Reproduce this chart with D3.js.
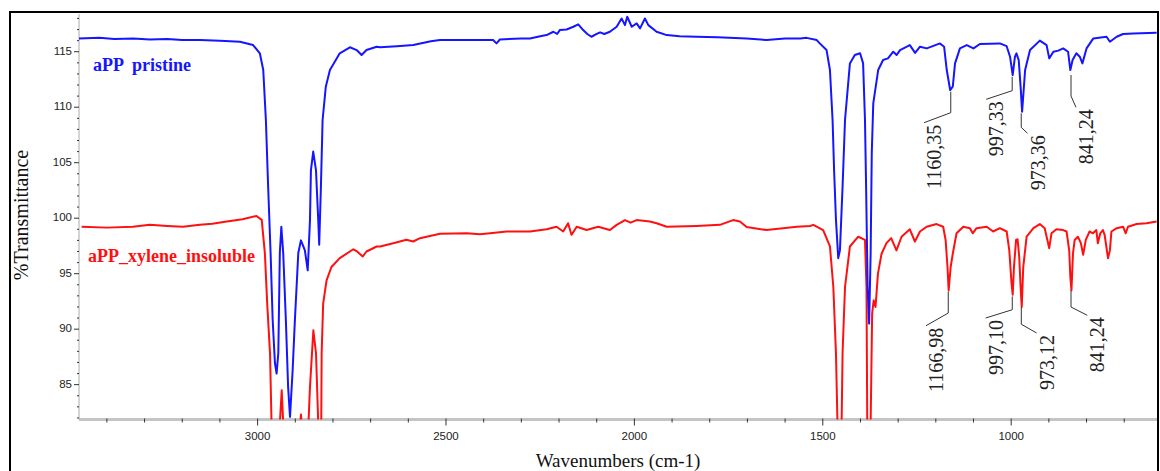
<!DOCTYPE html>
<html>
<head>
<meta charset="utf-8">
<script src="https://cdn.jsdelivr.net/npm/d3@7"></script>
<style>
  body { margin: 0; background: #fff; }
  svg { display: block; }
</style>
</head>
<body>
<script>
// spectra: [wavenumber (cm-1), %T]
const pristine = [
  [3474,116.2],[3420,116.25],[3380,116.15],[3330,116.2],[3286,116.1],[3240,116.15],[3200,116.05],
  [3153,116.05],[3100,116.0],[3047,115.9],[3012,115.6],[2994,114.86],[2985,113.35],[2978,108.85],
  [2972,102.84],[2965.5,96.86],[2960,90.83],[2954,86.95],[2949.6,86.0],[2945,87.85],[2941,96.86],
  [2937,99.23],[2932,96.86],[2925,90.83],[2919,84.8],[2914,82.1],[2907,86.3],[2901,90.83],
  [2892,96.86],[2885,98.0],[2874.5,97.1],[2867,95.3],[2861,99.8],[2858.5,104.3],[2852.4,106.0],
  [2845,104.3],[2839,99.8],[2836.5,97.6],[2832,102.8],[2827.5,108.85],[2819,111.85],[2808,113.35],
  [2782,114.86],[2755,115.4],[2737,115.15],[2724,114.7],[2711,115.15],[2684,115.45],[2675,115.4],
  [2630,115.5],[2587,115.6],[2540,115.95],[2516,116.05],[2450,116.05],[2375,116.05],[2366,115.75],
  [2357,116.1],[2300,116.2],[2277,116.2],[2250,116.4],[2233,116.5],[2215,116.8],[2205,116.6],
  [2198,116.95],[2180,117.0],[2162,117.25],[2149,117.47],[2136,116.95],[2125,116.6],[2114,116.35],
  [2100,116.6],[2091,116.75],[2080,116.6],[2065,116.8],[2047,117.25],[2034,118.0],[2025,117.4],
  [2019,118.15],[2007,117.25],[1994,117.55],[1985,117.1],[1972,118.0],[1963,117.4],[1941,116.8],
  [1914,116.5],[1880,116.4],[1835,116.35],[1780,116.3],[1702,116.2],[1649,116.05],[1600,116.2],
  [1560,116.2],[1543,116.25],[1516,116.05],[1508,115.75],[1490,115.15],[1481,113.35],[1474,108.85],
  [1470,104.34],[1465,99.83],[1459,96.4],[1454.5,97.1],[1447.5,102.84],[1441,108.85],[1428,113.95],
  [1415,114.7],[1401,114.86],[1393,113.95],[1388,108.85],[1385,102.8],[1381,93.8],[1377,90.5],
  [1373,96.8],[1370,105.85],[1366,110.35],[1353,113.35],[1340,114.25],[1327,114.4],[1313,115.0],
  [1304,114.7],[1295,115.15],[1269,115.6],[1255,114.9],[1242,115.45],[1224,115.3],[1189,115.75],
  [1178,115.45],[1171,113.35],[1162,111.55],[1155,111.85],[1149,113.95],[1136,115.3],[1118,115.6],
  [1100,115.3],[1083,115.7],[1030,115.75],[1012,115.5],[1003,114.55],[996,112.9],[990,114.55],
  [986,114.85],[980,114.25],[975,111.85],[971,109.6],[963,113.35],[950,115.15],[924,116.0],
  [906,115.6],[899,114.4],[888,115.0],[875,115.1],[862,115.3],[849,115.0],[843,113.35],[837,114.25],
  [827,114.86],[818,114.55],[811,113.95],[800,115.3],[782,116.2],[747,116.35],[738,115.9],
  [720,116.35],[703,116.6],[676,116.65],[614,116.7]
];

const insoluble = [
  [3467,99.23],[3400,99.15],[3331,99.23],[3286,99.4],[3240,99.3],[3198,99.23],[3153,99.4],
  [3120,99.5],[3082,99.7],[3040,99.9],[3003,100.2],[2989,99.85],[2980.6,96.8],[2974.5,92.3],
  [2967,87.8],[2963,81.5],[2958,78],[2945,78],[2941,81.5],[2936,84.5],[2932,81.5],[2928,78],
  [2890,78],[2887,81.5],[2885,82.3],[2883,81.5],[2875,78],[2865,81.5],[2861,84.8],[2852,89.9],
  [2845,87.85],[2839,81.5],[2835,78],[2833,78],[2831,82],[2830,87.85],[2826,92.3],[2817,94.4],
  [2804,95.6],[2782,96.4],[2746,97.2],[2736,97.0],[2721,96.55],[2711,97.0],[2684,97.45],
  [2675,97.45],[2640,97.75],[2605,98.05],[2587,97.9],[2569,98.2],[2516,98.6],[2445,98.64],
  [2410,98.55],[2383,98.64],[2339,98.8],[2277,98.8],[2233,99.0],[2206.5,99.23],[2189,98.8],
  [2176,99.55],[2167,98.5],[2153,99.23],[2127,98.93],[2096,99.23],[2065,98.93],[2047,99.4],
  [2025,99.83],[2010,99.6],[1994,99.83],[1959,99.7],[1941,99.55],[1914,99.23],[1835,99.3],
  [1773,99.4],[1738,99.83],[1720,99.7],[1702,99.2],[1649,98.93],[1569,99.23],[1534,99.3],
  [1525,99.4],[1499,98.93],[1481,97.45],[1472,93.8],[1465,87.8],[1461,81.5],[1455,78],[1452,78],
  [1450,81.5],[1447.5,87.85],[1441,93.8],[1428,97.45],[1406,98.33],[1388,98.05],[1384,93.8],
  [1382,81.5],[1379,78],[1375,78],[1373,81.5],[1369,91.4],[1365,92.6],[1360,92.0],[1353.6,95.0],
  [1344,96.8],[1331,97.75],[1318.5,98.2],[1304.5,97.1],[1291,98.33],[1269,99.0],[1255.5,97.9],
  [1242,98.8],[1224.5,99.23],[1198,99.47],[1180.5,99.23],[1174,98.04],[1169,95.6],[1166,93.5],
  [1160.6,95.6],[1155,96.8],[1145,98.64],[1127,99.23],[1109.5,99.1],[1102,98.64],[1092,99.1],
  [1065,99.23],[1048,98.8],[1030,99.1],[1012,98.8],[1005,97.1],[999,94.1],[996,93.1],[992.6,95.6],
  [987,98.04],[983,98.1],[978.6,96.5],[975,93.8],[972,92.0],[968,95.6],[959,98.33],[941,99.1],
  [924,99.47],[911,99.1],[904,98.04],[899,97.3],[893,98.64],[880,99.0],[862,98.93],[853,98.8],
  [846,97.1],[843,94.7],[840,93.5],[836,96.8],[831.5,98.04],[823,98.33],[815,97.75],[809,96.7],
  [802,98.04],[792,98.8],[783,98.64],[774,98.93],[770,97.75],[763.5,98.64],[756.6,98.93],
  [752,98.5],[747.5,97.45],[743,96.4],[738,97.1],[734,98.8],[720,99.1],[703,99.23],[696,98.64],
  [690,99.23],[667,99.47],[641,99.55],[614,99.7]
];

// peak labels: [wavenumber, %T at peak, label]
const pristinePeaks = [[1160.35,111.4,"1160,35"],[997.33,112.75,"997,33"],[973.36,109.45,"973,36"],[841.24,112.9,"841,24"]];
const insolublePeaks = [[1166.98,93.4,"1166,98"],[997.10,92.95,"997,10"],[973.12,92.0,"973,12"],[841.24,93.5,"841,24"]];

const xMajor = [3000, 2500, 2000, 1500, 1000];
const yMajor = [85, 90, 95, 100, 105, 110, 115];

const W = 1160, H = 471;
var margin = {top: 14, right: 3, bottom: 51.5, left: 79};

// leader layout per label: [stem length, dx, dy]
const pristineLeaders = [[21,-26.7,10],[14,-26,8.6],[14,6.3,6],[21,5,11.3]];
const insolubleLeaders = [[21.6,-22.3,12.7],[13.3,-26.6,8.3],[17.3,15.3,8.7],[16.7,16.3,8.3]];

var svg = d3.select("body").append("svg")
  .attr("width", W)
  .attr("height", H);

var x = d3.scaleLinear()
  .domain([3474, 613])
  .range([margin.left, W - margin.right]);

var y = d3.scaleLinear()
  .domain([81.86, 118.4])
  .range([H - margin.bottom, margin.top]);

// outer frame
svg.append("rect")
  .attr("x", 10).attr("y", 12)
  .attr("width", 1148).attr("height", 480)
  .attr("fill", "none")
  .attr("stroke", "#000")
  .attr("stroke-width", 2);

svg.append("clipPath").attr("id", "plot")
  .append("rect")
  .attr("x", margin.left).attr("y", margin.top)
  .attr("width", W - margin.right - margin.left)
  .attr("height", H - margin.bottom - margin.top);

// x axis
var xAxisG = svg.append("g");
xAxisG.append("line")
  .attr("x1", margin.left).attr("x2", W - margin.right)
  .attr("y1", H - margin.bottom).attr("y2", H - margin.bottom)
  .attr("stroke", "#c4c4c4").attr("stroke-width", 3);

xAxisG.selectAll(".minor")
  .data(d3.range(3400, 613, -100))
  .join("line")
    .attr("x1", d => x(d)).attr("x2", d => x(d))
    .attr("y1", H - margin.bottom - 1)
    .attr("y2", d => H - margin.bottom + (d % 500 == 0 ? 6 : 3))
    .attr("stroke", "#333").attr("stroke-width", 1);

xAxisG.selectAll("text")
  .data(xMajor)
  .join("text")
    .attr("x", d => x(d))
    .attr("y", H - margin.bottom + 17)
    .attr("text-anchor", "middle")
    .attr("dominant-baseline", "middle")
    .style("font", "11.5px 'Liberation Sans', Arial, sans-serif")
    .attr("fill", "#222")
    .text(d => d);

// y axis
var yAxisG = svg.append("g");
yAxisG.append("line")
  .attr("x1", margin.left).attr("x2", margin.left)
  .attr("y1", margin.top).attr("y2", H - margin.bottom)
  .attr("stroke", "#aaa").attr("stroke-width", 1);

yAxisG.selectAll(".tick")
  .data(d3.range(82, 119, 1))
  .join("line")
    .attr("x1", d => margin.left - (d % 5 == 0 ? 5 : 2))
    .attr("x2", margin.left)
    .attr("y1", d => y(d)).attr("y2", d => y(d))
    .attr("stroke", "#333").attr("stroke-width", 1);

yAxisG.selectAll("text")
  .data(yMajor)
  .join("text")
    .attr("x", margin.left - 7)
    .attr("y", d => y(d))
    .attr("text-anchor", "end")
    .attr("dominant-baseline", "middle")
    .style("font", "11.5px 'Liberation Sans', Arial, sans-serif")
    .attr("fill", "#222")
    .text(d => d);

// axis titles
svg.append("text")
  .attr("transform", "translate(28,215) rotate(-90)")
  .attr("text-anchor", "middle")
  .style("font", "20px 'Liberation Serif', 'Times New Roman', serif")
  .attr("fill", "#111")
  .text("%Transmittance");

svg.append("text")
  .attr("x", 618).attr("y", 467)
  .attr("text-anchor", "middle")
  .style("font", "19px 'Liberation Serif', 'Times New Roman', serif")
  .attr("fill", "#111")
  .text("Wavenumbers (cm-1)");

// spectra
var line = d3.line()
  .x(d => x(d[0]))
  .y(d => y(d[1]));

const plot = svg.append("g").attr("clip-path", "url(#plot)");

plot.append("path")
  .datum(insoluble)
  .attr("d", line)
  .attr("fill", "none")
  .attr("stroke", "#ff1010")
  .attr("stroke-width", 2)
  .attr("stroke-linejoin", "round");

plot.append("path")
  .datum(pristine)
  .attr("d", line)
  .attr("fill", "none")
  .attr("stroke", "#1515ff")
  .attr("stroke-width", 2)
  .attr("stroke-linejoin", "round");

// series names
svg.append("text")
  .attr("x", 93).attr("y", 71)
  .attr("xml:space", "preserve")
  .style("white-space", "pre")
  .style("font", "bold 18px 'Liberation Serif', 'Times New Roman', serif")
  .attr("fill", "#1515ff")
  .text("aPP  pristine");

svg.append("text")
  .attr("x", 88).attr("y", 262)
  .style("font", "bold 18px 'Liberation Serif', 'Times New Roman', serif")
  .attr("fill", "#ff1010")
  .text("aPP_xylene_insoluble");

// peak labels with leader lines
function peakLabels(peaks, leaders) {
  const g = svg.append("g");
  peaks.forEach(function(p, i) {
    let [stem, dx, dy] = leaders[i];
    let px = x(p[0]), py = y(p[1]),
        sy = py + stem,
        ex = px + dx, ey = sy + dy;
    g.append("path")
      .attr("d", `M${px},${py}V${sy}L${ex},${ey}`)
      .attr("fill", "none")
      .attr("stroke", "#333")
      .attr("stroke-width", 1);
    g.append("text")
      .attr("transform", `translate(${ex + 10},${ey + 2}) rotate(-90)`)
      .attr("text-anchor", "end")
      .attr("dominant-baseline", "central")
      .style("font", "20px 'Liberation Serif', 'Times New Roman', serif")
      .attr("fill", "#222")
      .text(p[2]);
  });
}

peakLabels(pristinePeaks, pristineLeaders);
peakLabels(insolublePeaks, insolubleLeaders);
</script>
</body>
</html>
